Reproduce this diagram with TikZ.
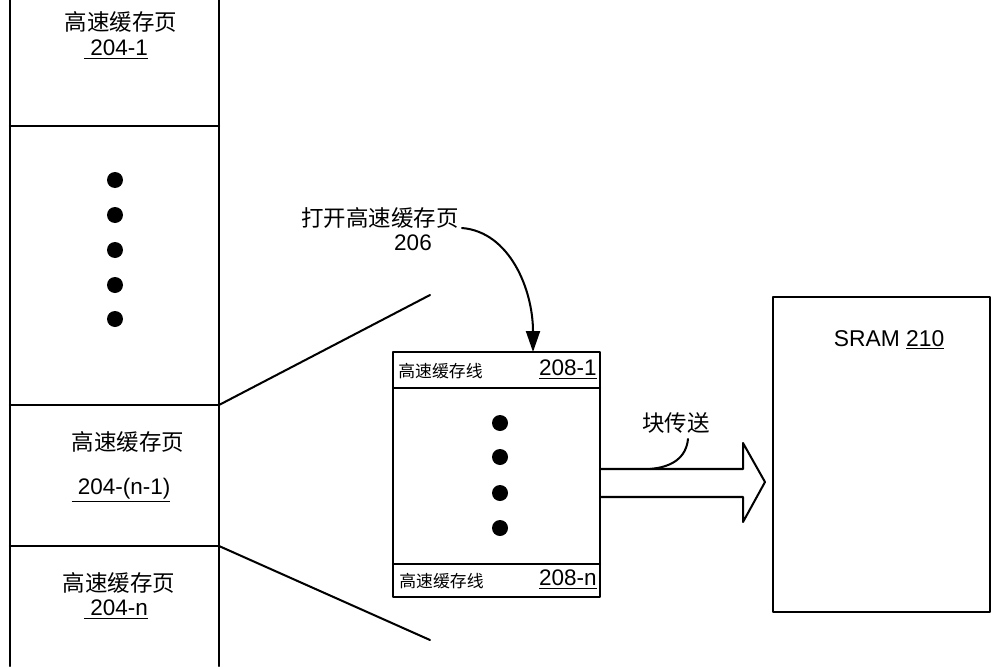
\documentclass[tikz,border=0pt]{standalone}
\usepackage{fontspec}
\setmainfont{Liberation Sans}
\newfontfamily\cjk{Noto Sans CJK SC}
\usetikzlibrary{arrows.meta}
\newcommand{\lead}[1]{\underline{\hspace{3.5pt}#1}}
\tikzset{
  outline/.style={line width=1.15pt, line cap=round, line join=round},
  bigtxt/.style={font=\fontsize{12.8}{15}\selectfont, inner sep=0pt},
  cjktxt/.style={font=\cjk\fontsize{12.8}{15}\selectfont, inner sep=0pt},
  smalltxt/.style={font=\cjk\fontsize{9.6}{11}\selectfont, inner sep=0pt},
  dotmark/.style={circle, fill=black, minimum size=0.32cm, inner sep=0pt},
}
\begin{document}
\begin{tikzpicture}[x=0.02cm, y=-0.02cm]
\useasboundingbox (0,0) rectangle (1000,666);
% left column of cache pages
\coordinate (cTL) at (10,0);
\coordinate (cBL) at (10,666);
\coordinate (cTR) at (219,0);
\coordinate (cBR) at (219,666);
\coordinate (s1L) at (10,126);  \coordinate (s1R) at (219,126);
\coordinate (s2L) at (10,405);  \coordinate (s2R) at (219,405);
\coordinate (s3L) at (10,546);  \coordinate (s3R) at (219,546);
\draw[outline] (cTL) -- (cBL);
\draw[outline] (cTR) -- (cBR);
\draw[outline] (s1L) -- (s1R);
\draw[outline] (s2L) -- (s2R);
\draw[outline] (s3L) -- (s3R);
\node[cjktxt] (p1a) at (121,22) {高速缓存页};
\node[bigtxt] (p1b) at (116,50) {\lead{204-1}};
\foreach \i/\yy in {1/180,2/215,3/250,4/285,5/319}
  \node[dotmark] (ld\i) at (115,\yy) {};
\node[cjktxt] (p2a) at (128,442) {高速缓存页};
\node[bigtxt] (p2b) at (121,490) {\lead{204-(n-1)}};
\node[cjktxt] (p3a) at (119,583) {高速缓存页};
\node[bigtxt] (p3b) at (116,610) {\lead{204-n}};
% expansion lines
\coordinate (e1) at (430,295);
\coordinate (e2) at (430,640);
\draw[outline] (s2R) -- (e1);
\draw[outline] (s3R) -- (e2);
% open cache page box
\node[draw, outline, minimum width=4.14cm, minimum height=4.9cm, inner sep=0pt] (cbox) at (496.5,474.5) {};
\coordinate (l1L) at (393,388); \coordinate (l1R) at (600,388);
\coordinate (l2L) at (393,564); \coordinate (l2R) at (600,564);
\draw[outline] (l1L) -- (l1R);
\draw[outline] (l2L) -- (l2R);
\node[smalltxt, anchor=west] (cl1) at (398,371) {高速缓存线};
\node[bigtxt, anchor=east] (cn1) at (597,370) {\underline{208-1}};
\node[smalltxt, anchor=west] (cl2) at (399,581) {高速缓存线};
\node[bigtxt, anchor=east] (cn2) at (597,580) {\underline{208-n}};
\foreach \i/\yy in {1/423,2/457,3/493,4/528}
  \node[dotmark] (bd\i) at (500,\yy) {};
% open cache page label and arrow
\node[cjktxt] (open) at (380,218) {打开高速缓存页};
\node[bigtxt] (open2) at (413,243) {206};
\coordinate (oa) at (462,228);
\coordinate (ob) at (533,352);
\draw[outline, -{Triangle[length=0.42cm, width=0.28cm]}] (oa) .. controls (510,232) and (533,290) .. (ob);
% block transfer arrow
\draw[outline] (600,469) -- (743,469) -- (743,443) -- (765,482) -- (743,522) -- (743,497) -- (600,497);
\node[cjktxt] (bt) at (676,423) {块传送};
\coordinate (bta) at (688,439);
\coordinate (btb) at (650,469);
\draw[outline] (bta) .. controls (686,458) and (672,467) .. (btb);
% SRAM
\node[draw, outline, minimum width=4.34cm, minimum height=6.3cm, inner sep=0pt] (sram) at (881.5,454.5) {};
\node[bigtxt, font=\fontsize{13}{15}\selectfont] (sramt) at (889,340) {SRAM \underline{210}};
\end{tikzpicture}
\end{document}
